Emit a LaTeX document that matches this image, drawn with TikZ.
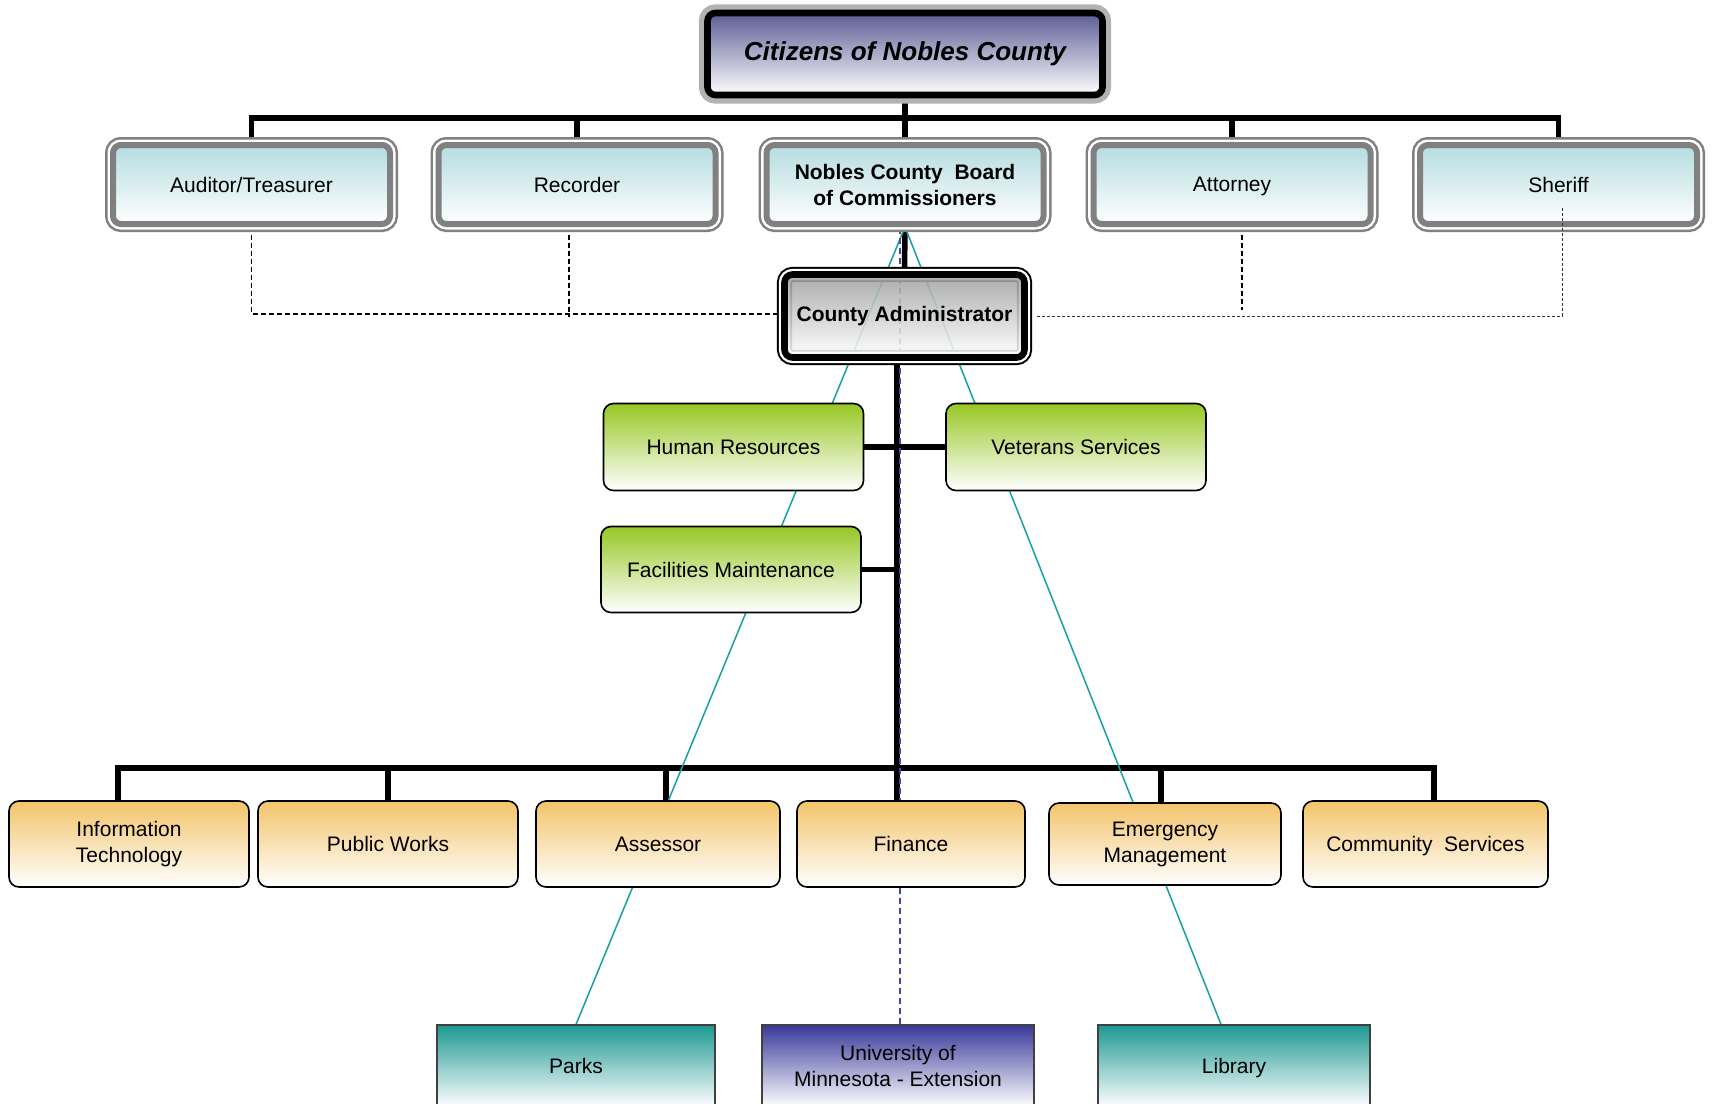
\documentclass[tikz,border=0pt]{standalone}
\usepackage{fontspec}
\setmainfont{Liberation Sans}
\usetikzlibrary{backgrounds}

\definecolor{citytop}{RGB}{92,92,150}
\definecolor{boardtop}{RGB}{181,220,224}
\definecolor{admtop}{RGB}{160,160,160}
\definecolor{deptgreen}{RGB}{151,199,36}
\definecolor{deptorange}{RGB}{243,196,106}
\definecolor{deptteal}{RGB}{29,152,146}
\definecolor{deptblue}{RGB}{56,56,154}
\definecolor{tieteal}{RGB}{23,160,160}
\definecolor{tieblue}{RGB}{70,70,170}

\newcommand{\boxfont}{\fontsize{10.5}{13}\selectfont}

\tikzset{
  heavy/.style={rectangle, rounded corners=4pt, inner sep=0pt, align=center,
    preaction={draw=black, line width=7.6pt},
    preaction={draw=white, line width=5.6pt},
    draw=black, line width=3.3pt},
  elected/.style={rectangle, rounded corners=4pt, inner sep=0pt, align=center, font=\boxfont,
    minimum width=138.5pt, minimum height=39.5pt,
    preaction={draw=gray, line width=8pt},
    preaction={draw=white, line width=5.5pt},
    draw=gray, line width=3pt, top color=boardtop, bottom color=white},
  staffdept/.style={rectangle, rounded corners=5pt, inner sep=0pt, align=center, font=\boxfont,
    draw=black, line width=0.8pt, minimum width=130pt, minimum height=43.5pt,
    top color=deptgreen, bottom color=white},
  opsdept/.style={rectangle, rounded corners=5pt, inner sep=0pt, align=center, font=\boxfont,
    draw=black, line width=0.8pt, minimum width=122pt, minimum height=43pt,
    top color=deptorange, bottom color=white},
  partner/.style={rectangle, inner sep=0pt, align=center, font=\boxfont,
    draw=black!75, line width=0.6pt, minimum width=136pt, minimum height=41pt,
    bottom color=white},
  bus/.style={line width=2.75pt},
  tie/.style={tieteal, line width=0.75pt},
  extension/.style={tieblue, line width=0.6pt, dash pattern=on 3pt off 2pt},
  liaison/.style={black, line width=0.7pt, dash pattern=on 2.5pt off 1.5pt},
  liaisonfine/.style={black!80, line width=0.5pt, dash pattern=on 1.5pt off 1pt}
}

\begin{document}
\begin{tikzpicture}[x=0.5pt, y=-0.5pt]

    \useasboundingbox (0,0) rectangle (1713,1103);

    % top of the chart
    \node[heavy, preaction={draw=gray!60, line width=8.6pt}, minimum width=197.5pt, minimum height=41pt,
          top color=citytop, bottom color=white,
          font=\fontsize{13}{16}\selectfont\bfseries\itshape] (cit) at (905, 54) {Citizens of Nobles County};

    \node[elected] (aud)   at (251.5, 184.5) {Auditor/Treasurer};
    \node[elected] (rec)   at (577, 184.5)   {Recorder};
    \node[elected, font=\boxfont\bfseries] (board) at (905, 184.5) {Nobles County\ \ Board\\of Commissioners};
    \node[elected, text depth=0pt] (att) at (1232, 184.5) {Attorney};
    \node[elected] (sher)  at (1558.5, 184.5) {Sheriff};

    \node[heavy, minimum width=120pt, minimum height=41.5pt, top color=admtop, bottom color=white,
          fill opacity=0.88, text opacity=1, font=\boxfont\bfseries] (admin) at (904.5, 316) {County Administrator};

    % departments
    \node[staffdept] (hr)  at (733.5, 447) {Human Resources};
    \node[staffdept] (vet) at (1076, 447)  {Veterans Services};
    \node[staffdept, minimum height=43pt] (fm) at (731, 569.5) {Facilities Maintenance};

    \node[opsdept, minimum width=120pt]   (it)  at (129, 844)    {Information\\Technology};
    \node[opsdept, minimum width=130pt]   (pw)  at (388, 844)    {Public Works};
    \node[opsdept]                        (ass) at (658, 844)    {Assessor};
    \node[opsdept, minimum width=114pt]   (fin) at (911, 844)    {Finance};
    \node[opsdept, minimum width=116pt, minimum height=41pt] (em) at (1165, 844) {Emergency\\Management};
    \node[opsdept, minimum width=122.5pt, text depth=0pt] (cs) at (1425.5, 844) {Community\ \ Services};

    \node[partner, top color=deptteal, minimum width=139pt] (parks) at (576, 1066) {Parks};
    \node[partner, top color=deptblue] (univ) at (898, 1066) {University of\\Minnesota - Extension};
    \node[partner, top color=deptteal, text depth=0pt] (lib) at (1234, 1066) {Library};

    \coordinate (topbus) at (905, 118);
    \coordinate (trunk)  at (897, 768);
    \coordinate (shtap)  at (1562, 208);

    \begin{scope}[on background layer]
        % solid reporting lines
        \draw[bus] (cit.south) -- (board.north);
        \draw[bus] (aud.north) |- (topbus) -| (sher.north);
        \foreach \n in {rec, att}
            \draw[bus] (\n.north) -- (\n.north |- topbus);
        \draw[bus] (board.south) -- (admin.north);
        \draw[bus] ([xshift=-3.75pt]admin.south) -- (fin.north -| trunk);
        \draw[bus] (hr.east) -- (hr.east -| trunk);
        \draw[bus] (vet.west) -- (vet.west -| trunk);
        \draw[bus] (fm.east) -- (fm.east -| trunk);
        \draw[bus] ([xshift=-5.5pt]it.north) |- (trunk) -| ([xshift=4.25pt]cs.north);
        \draw[bus] (pw.north) -- (pw.north |- trunk);
        \draw[bus] ([xshift=4pt]ass.north) -- ([xshift=4pt]ass.north |- trunk);
        \draw[bus] ([xshift=-2pt]em.north) -- ([xshift=-2pt]em.north |- trunk);

        % board ties
        \draw[tie] (board.south) -- (parks.north);
        \draw[tie] (board.south) -- ([xshift=-6.5pt]lib.north);
        \draw[extension] ([xshift=1pt]univ.north) -- ([xshift=1pt]univ.north |- board.south);

        % elected offices
        \draw[liaison] (aud.south) |- ([yshift=1pt]admin.west);
        \draw[liaison] ([xshift=-4pt]rec.south) -- ++(0, 90);
        \draw[liaison] ([xshift=5pt]att.south) -- ++(0, 83);
    \end{scope}

    \draw[liaisonfine] (shtap) |- ([xshift=3.8pt]admin.east);

\end{tikzpicture}
\end{document}
